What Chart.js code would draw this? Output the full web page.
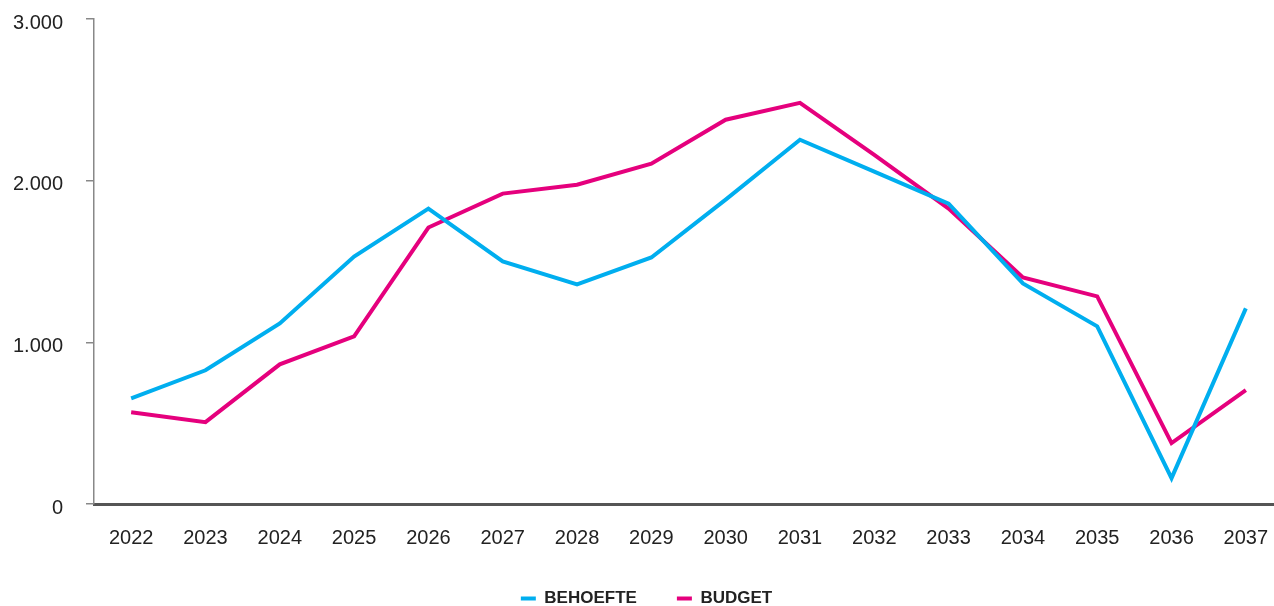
<!DOCTYPE html>
<html>
<head>
<meta charset="utf-8">
<script src="https://cdn.jsdelivr.net/npm/chart.js@4"></script>
<style>
  html, body { margin: 0; padding: 0; background: #fff; overflow: hidden; }
  #wrap { width: 1296px; height: 627px; margin-top: -16px; position: relative; }
</style>
</head>
<body>
<div id="wrap"><canvas id="lineChart"></canvas></div>
<script>
var years = ['2022', '2023', '2024', '2025', '2026', '2027', '2028', '2029',
  '2030', '2031', '2032', '2033', '2034', '2035', '2036', '2037'];
var behoefte = [654, 827, 1117, 1531, 1827, 1500, 1358, 1525, 1883, 2253, 2056, 1858, 1364, 1099, 160, 1210];
var budget = [568, 506, 864, 1037, 1710, 1920, 1975, 2105, 2377, 2481, 2160, 1827, 1401, 1284, 377, 704];
var yTicks = [0, 1000, 2000, 3000];
var seriesNames = ['BEHOEFTE', 'BUDGET'];

var ctx = document.getElementById('lineChart').getContext('2d');

var chart = new Chart(ctx, {
  type: 'line',
  data: {
    labels: years,
    datasets: [{
      label: seriesNames[0],
      data: behoefte,
      borderColor: '#00aeef',
      backgroundColor: '#00aeef',
      borderWidth: 4,
      pointRadius: 0,
      tension: 0,
      borderJoinStyle: 'miter'
    }, {
      label: seriesNames[1],
      data: budget,
      borderColor: '#e5007d',
      backgroundColor: '#e5007d',
      borderWidth: 4,
      pointRadius: 0,
      tension: 0,
      borderJoinStyle: 'miter'
    }]
  },
  options: {
    responsive: true,
    maintainAspectRatio: false,
    animation: false,
    layout: {
      padding: { top: -7, right: 13, left: 10, bottom: -6 }
    },
    scales: {
      x: {
        offset: true,
        grid: { display: false },
        border: { color: '#555', width: 3 },
        ticks: {
          color: '#222',
          padding: 14,
          maxRotation: 0,
          font: { family: 'Liberation Sans', size: 20 }
        },
        // pull the legend up closer to the axis labels
        afterFit: function (axis) {
          axis.height -= 14;
        }
      },
      y: {
        min: 0,
        max: 3000,
        afterBuildTicks: function (axis) {
          axis.ticks = yTicks.map(function (v) { return { value: v }; });
        },
        afterFit: function (axis) {
          axis.width = 84;
        },
        grid: {
          drawOnChartArea: false,
          drawTicks: true,
          tickLength: 8,
          color: '#888',
          lineWidth: 1.5
        },
        border: { color: '#888', width: 1.5 },
        ticks: {
          color: '#222',
          padding: 23,
          labelOffset: 4,
          font: { family: 'Liberation Sans', size: 20 },
          callback: function (v) {
            return v.toLocaleString('de-DE');
          }
        }
      }
    },
    plugins: {
      legend: {
        position: 'bottom',
        labels: {
          usePointStyle: true,
          pointStyle: 'line',
          pointStyleWidth: 15,
          boxWidth: 15,
          padding: 40,
          color: '#222',
          font: { family: 'Liberation Sans', size: 17, weight: 'bold' }
        }
      },
      tooltip: { enabled: false }
    }
  }
});
</script>
</body>
</html>
